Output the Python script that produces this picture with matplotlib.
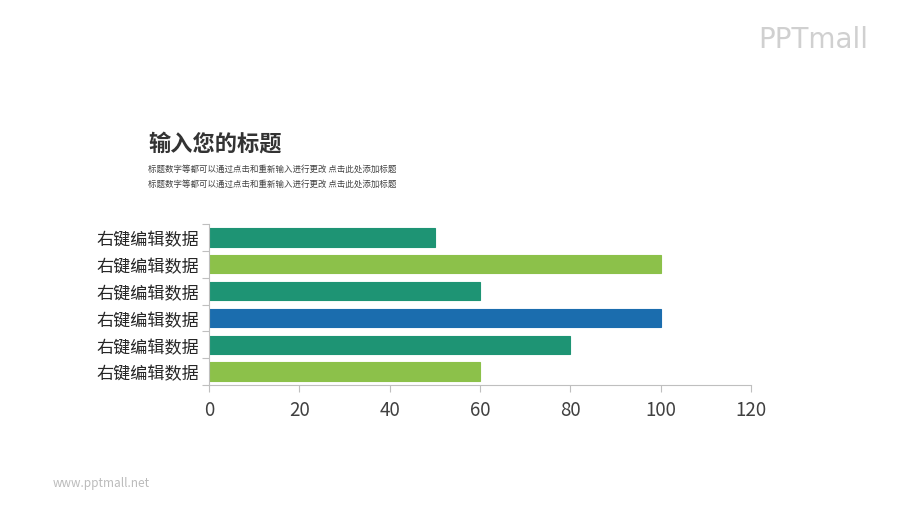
import matplotlib
matplotlib.use("Agg")
import matplotlib.pyplot as plt
import numpy as np

plt.rcParams['font.family'] = ['Noto Sans CJK SC', 'DejaVu Sans']

categories = ["右键编辑数据"] * 6
values = [50, 100, 60, 100, 80, 60]
bar_colors = ["#1E9474", "#8CC14A", "#1E9474", "#1B6DAE", "#1E9474", "#8CC14A"]
x_ticks = [0, 20, 40, 60, 80, 100, 120]
title = "输入您的标题"
subtitle = "标题数字等都可以通过点击和重新输入进行更改 点击此处添加标题"

fig = plt.figure(figsize=(9, 5.06), dpi=100)
ax = fig.add_axes([0.2322, 0.2372, 0.6022, 0.318])

n = len(values)
y = np.arange(n)[::-1]
ax.barh(y, values, height=0.68, color=bar_colors, edgecolor=[c for c in bar_colors], linewidth=0.8)

ax.set_xlim(0, 120)
ax.set_ylim(-0.5, n - 0.5)
ax.set_xticks(x_ticks)
ax.set_xticklabels([str(t) for t in x_ticks], fontsize=13.5, color="#404040")
ax.set_yticks(y)
ax.set_yticklabels(categories, fontsize=12.3, color="#262626")
ax.tick_params(axis='y', length=0, pad=7)
ax.set_yticks(np.arange(-0.5, n, 1.0), minor=True)
ax.tick_params(axis='y', which='minor', length=5, color="#BFBFBF", width=0.8)
ax.tick_params(axis='x', length=5, color="#BFBFBF", width=0.8, pad=5)

for s in ["top", "right"]:
    ax.spines[s].set_visible(False)
for s in ["left", "bottom"]:
    ax.spines[s].set_color("#BFBFBF")
    ax.spines[s].set_linewidth(0.8)

fig.text(148 / 900, 1 - 144 / 506, title, fontsize=16, fontweight='bold', color="#333333", va='center', ha='left')
fig.text(148 / 900, 1 - 169 / 506, subtitle, fontsize=6.1, color="#404040", va='center', ha='left')
fig.text(148 / 900, 1 - 184 / 506, subtitle, fontsize=6.1, color="#404040", va='center', ha='left')

fig.text(868 / 900, 1 - 40 / 506, "PPTmall", fontsize=20, color="#D0D0D0", va='center', ha='right', family=['DejaVu Sans'])
fig.text(53 / 900, 1 - 484 / 506, "www.pptmall.net", fontsize=8.5, color="#BBBBBB", va='center', ha='left')

fig.savefig("out.png", dpi=100)
